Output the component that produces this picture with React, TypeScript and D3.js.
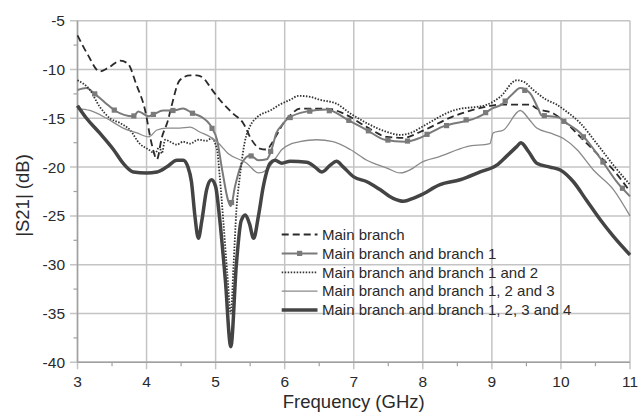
import React from "react";
import * as d3 from "d3";

type Pt = [number, number];

const xTicks = [3, 4, 5, 6, 7, 8, 9, 10, 11];
const yTicks = [-5, -10, -15, -20, -25, -30, -35, -40];

const legendLabels = [
  "Main branch",
  "Main branch and branch 1",
  "Main branch and branch 1 and 2",
  "Main branch and branch 1, 2 and 3",
  "Main branch and branch 1, 2, 3 and 4",
];

const mainBranch: Pt[] = [
  [3.0, -6.5], [3.15, -8.5], [3.32, -10.2], [3.45, -9.8], [3.62, -9.1], [3.73, -9.4],
  [3.85, -11.5], [3.98, -14.2], [4.07, -17.5], [4.15, -19.2], [4.22, -17.0], [4.31, -15.2],
  [4.36, -13.8], [4.48, -11.1], [4.63, -10.6], [4.73, -10.6], [4.84, -11.0], [4.92, -11.8],
  [5.06, -13.1], [5.25, -14.5], [5.4, -15.5], [5.52, -17.2], [5.64, -18.1], [5.74, -18.2],
  [5.81, -17.6], [5.9, -16.5], [6.0, -15.3], [6.08, -14.7], [6.22, -14.0], [6.61, -14.0],
  [6.85, -14.5], [7.19, -15.9], [7.48, -16.9], [7.72, -17.0], [7.96, -16.4], [8.44, -14.8],
  [8.93, -13.8], [9.1, -13.6], [9.55, -13.6], [9.65, -14.0], [9.89, -14.5], [10.08, -15.5],
  [10.28, -16.9], [10.52, -18.6], [10.76, -20.3], [11.0, -22.5],
];

const branch1: Pt[] = [
  [3.0, -12.1], [3.13, -11.9], [3.25, -12.5], [3.4, -13.4], [3.54, -14.2], [3.81, -14.8],
  [3.88, -14.3], [4.03, -14.8], [4.1, -14.6], [4.24, -14.2], [4.39, -14.2], [4.53, -14.0],
  [4.67, -14.5], [4.78, -14.8], [4.94, -15.9], [5.02, -17.2], [5.1, -20.5], [5.18, -23.4],
  [5.22, -24.0], [5.28, -22.0], [5.38, -19.6], [5.5, -18.8], [5.62, -19.3], [5.74, -19.2],
  [5.81, -18.2], [5.88, -16.5], [5.96, -15.7], [6.05, -15.0], [6.32, -14.3], [6.61, -14.1],
  [6.9, -15.1], [7.19, -16.2], [7.45, -17.2], [7.74, -17.4], [7.96, -17.0], [8.27, -15.9],
  [8.85, -14.7], [9.0, -14.0], [9.14, -13.6], [9.3, -12.5], [9.41, -11.9], [9.55, -12.4],
  [9.67, -14.0], [9.72, -14.7], [9.96, -14.9], [10.08, -15.5], [10.28, -16.5], [10.54, -18.8],
  [10.83, -21.7], [11.0, -23.0],
];

const branch12: Pt[] = [
  [3.0, -11.1], [3.18, -12.1], [3.32, -13.8], [3.47, -15.0], [3.62, -15.5], [3.76, -16.2],
  [3.9, -17.6], [4.03, -18.2], [4.12, -18.6], [4.19, -17.9], [4.22, -18.6], [4.27, -17.2],
  [4.34, -17.4], [4.44, -17.7], [4.53, -17.4], [4.63, -17.6], [4.75, -17.2], [4.87, -17.3],
  [4.94, -17.05], [5.02, -18.2], [5.06, -21.0], [5.11, -25.4], [5.17, -31.0], [5.22, -35.0],
  [5.26, -30.0], [5.3, -24.5], [5.35, -21.0], [5.42, -17.5], [5.5, -15.8], [5.6, -14.9],
  [5.79, -14.2], [5.93, -13.6], [6.08, -13.1], [6.2, -12.7], [6.37, -12.8], [6.51, -13.1],
  [6.75, -13.5], [6.95, -14.5], [7.19, -15.5], [7.48, -16.4], [7.67, -16.7], [7.86, -16.4],
  [7.96, -16.0], [8.44, -14.2], [8.93, -13.6], [9.12, -12.8], [9.36, -11.1], [9.46, -11.25],
  [9.6, -12.1], [9.79, -13.1], [9.94, -13.6], [10.08, -14.3], [10.28, -15.5], [10.52, -17.6],
  [10.76, -19.8], [11.0, -21.8],
];

const branch123: Pt[] = [
  [3.0, -14.0], [3.18, -14.2], [3.42, -15.0], [3.66, -16.0], [3.86, -16.5], [4.03, -16.9],
  [4.15, -16.2], [4.29, -16.0], [4.48, -16.0], [4.63, -15.9], [4.77, -16.4], [4.92, -16.9],
  [5.02, -17.4], [5.18, -18.6], [5.45, -19.6], [5.62, -20.6], [5.74, -20.3], [5.84, -19.4],
  [5.96, -18.2], [6.1, -17.6], [6.22, -17.4], [6.46, -17.2], [6.7, -17.4], [6.95, -18.2],
  [7.19, -19.3], [7.48, -20.1], [7.67, -20.6], [7.86, -20.1], [7.96, -19.6], [8.25, -18.9],
  [8.64, -17.9], [8.97, -17.6], [9.02, -16.5], [9.17, -16.2], [9.41, -14.2], [9.55, -15.2],
  [9.65, -16.0], [9.84, -16.5], [10.03, -17.05], [10.23, -18.2], [10.47, -20.3], [10.76, -22.3],
  [11.0, -25.0],
];

const branch1234: Pt[] = [
  [3.0, -13.7], [3.13, -15.0], [3.32, -16.5], [3.52, -18.2], [3.66, -19.6], [3.81, -20.5],
  [4.0, -20.6], [4.15, -20.5], [4.29, -20.0], [4.44, -19.3], [4.53, -19.3], [4.6, -20.0],
  [4.65, -21.5], [4.7, -25.0], [4.75, -27.3], [4.8, -25.5], [4.87, -22.3], [4.94, -21.3],
  [5.0, -22.0], [5.06, -25.4], [5.14, -31.5], [5.22, -38.4], [5.3, -30.0], [5.37, -25.5],
  [5.43, -24.9], [5.49, -25.8], [5.55, -27.3], [5.62, -25.0], [5.69, -22.0], [5.79, -19.6],
  [5.86, -19.3], [5.96, -19.6], [6.08, -19.4], [6.32, -19.5], [6.44, -20.0], [6.54, -20.5],
  [6.66, -19.8], [6.75, -19.4], [6.85, -20.0], [7.0, -21.0], [7.19, -21.5], [7.38, -22.3],
  [7.57, -23.2], [7.72, -23.5], [7.86, -23.2], [7.96, -22.9], [8.25, -21.8], [8.54, -21.3],
  [8.83, -20.5], [9.07, -19.8], [9.21, -18.9], [9.36, -17.9], [9.42, -17.5], [9.53, -18.4],
  [9.65, -19.6], [9.84, -20.0], [9.99, -20.3], [10.18, -21.5], [10.37, -23.4], [10.57, -25.4],
  [10.76, -27.1], [11.0, -29.0],
];

const markerFreqs = d3.range(3.25, 11.0, 0.283);

const FONT = "'Liberation Sans', Arial, sans-serif";

function interp(data: Pt[], f: number): number {
  const i = d3.bisector((d: Pt) => d[0]).left(data, f);
  if (i <= 0) return data[0][1];
  if (i >= data.length) return data[data.length - 1][1];
  const a = data[i - 1], b = data[i];
  const t = (f - a[0]) / (b[0] - a[0]);
  return a[1] + t * (b[1] - a[1]);
}

export default function App() {
  const W = 638, H = 414;
  const x = d3.scaleLinear().domain([3, 11]).range([77.5, 630]);
  const y = d3.scaleLinear().domain([-40, -5]).range([362.3, 20.7]);
  const line = d3
    .line<Pt>()
    .x((d) => x(d[0]))
    .y((d) => y(d[1]))
    .curve(d3.curveMonotoneX);

  const series = [
    { data: mainBranch, stroke: "#2a2a2a", width: 1.8, dash: "7,4" },
    { data: branch1, stroke: "#7a7a7a", width: 2, dash: undefined },
    { data: branch12, stroke: "#333", width: 1.8, dash: "1.5,1.5" },
    { data: branch123, stroke: "#8a8a8a", width: 1.3, dash: undefined },
    { data: branch1234, stroke: "#444", width: 3.5, dash: undefined },
  ];

  const minorX = d3.range(3.5, 11, 1);
  const minorY = d3.range(-37.5, -5, 5);

  const legX0 = 281.7, legX1 = 317.5, legTextX = 322, legY0 = 234.5, legDy = 18.9;

  return (
    <svg
      width={W}
      height={H}
      style={{ position: "absolute", left: 0, top: 0, background: "#fff" }}
      fontFamily={FONT}
    >
      {/* grid */}
      {yTicks.map((t) => (
        <line key={"gy" + t} x1={70} x2={x(11)} y1={y(t)} y2={y(t)} stroke="#c4c4c4" strokeWidth={1.5} />
      ))}
      {xTicks.map((t) => (
        <line key={"gx" + t} x1={x(t)} x2={x(t)} y1={y(-5)} y2={y(-40) + 7} stroke="#c4c4c4" strokeWidth={1.5} />
      ))}
      {minorX.map((t) => (
        <line key={"mx" + t} x1={x(t)} x2={x(t)} y1={y(-40)} y2={y(-40) + 4} stroke="#a0a0a0" strokeWidth={1.2} />
      ))}
      {minorY.map((t) => (
        <line key={"my" + t} x1={x(3) - 4} x2={x(3)} y1={y(t)} y2={y(t)} stroke="#a0a0a0" strokeWidth={1.2} />
      ))}
      <line x1={x(3)} x2={x(3)} y1={y(-5)} y2={y(-40)} stroke="#a0a0a0" strokeWidth={1.5} />
      <line x1={x(3)} x2={x(11)} y1={y(-40)} y2={y(-40)} stroke="#a0a0a0" strokeWidth={1.5} />

      {/* tick labels */}
      {yTicks.map((t) => (
        <text key={"ly" + t} x={65} y={y(t)} dy="0.35em" textAnchor="end" fontSize={15.5} fill="#2a2a2a">
          {t}
        </text>
      ))}
      {xTicks.map((t) => (
        <text key={"lx" + t} x={x(t)} y={387} textAnchor="middle" fontSize={15.5} fill="#2a2a2a">
          {t}
        </text>
      ))}
      <text x={x(7)} y={408} textAnchor="middle" fontSize={18.5} fill="#2a2a2a">
        Frequency (GHz)
      </text>
      <text
        transform={`translate(29,${(y(-5) + y(-40)) / 2 + 4}) rotate(-90)`}
        textAnchor="middle"
        fontSize={18.5}
        fill="#2a2a2a"
      >
        |S21| (dB)
      </text>

      {/* curves */}
      {series.map((s, i) => (
        <path
          key={"s" + i}
          d={line(s.data) || ""}
          fill="none"
          stroke={s.stroke}
          strokeWidth={s.width}
          strokeDasharray={s.dash}
          strokeLinejoin="round"
        />
      ))}
      {markerFreqs.map((f, i) => (
        <rect
          key={"m" + i}
          x={x(f) - 2.6}
          y={y(interp(branch1, f)) - 2.6}
          width={5.2}
          height={5.2}
          fill="#7a7a7a"
        />
      ))}

      {/* legend */}
      {series.map((s, i) => {
        const ly = legY0 + i * legDy;
        return (
          <g key={"lg" + i}>
            <line
              x1={legX0}
              x2={legX1}
              y1={ly}
              y2={ly}
              stroke={s.stroke}
              strokeWidth={s.width}
              strokeDasharray={s.dash}
            />
            {i === 1 && (
              <rect x={(legX0 + legX1) / 2 - 2.6} y={ly - 2.6} width={5.2} height={5.2} fill="#7a7a7a" />
            )}
            <text x={legTextX} y={ly} dy="0.35em" fontSize={15} fill="#2a2a2a">
              {legendLabels[i]}
            </text>
          </g>
        );
      })}
    </svg>
  );
}
